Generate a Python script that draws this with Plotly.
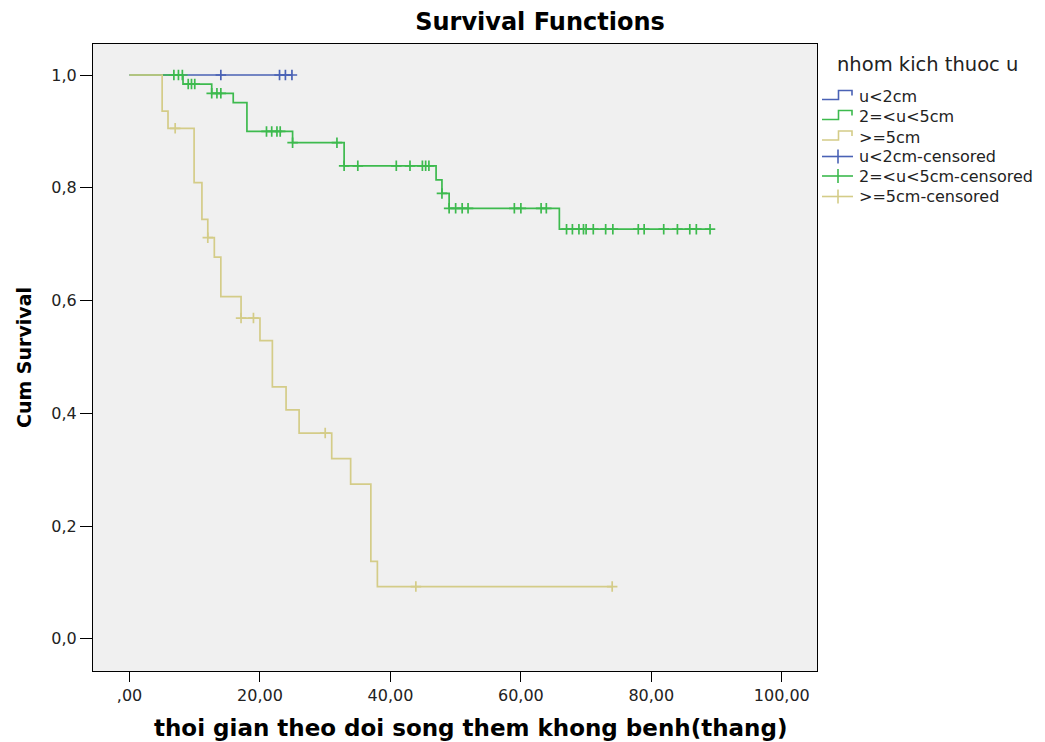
import plotly.graph_objects as go

# ---------------- data ----------------
group_names = ["u<2cm", "2=<u<5cm", ">=5cm"]
legend_title = "nhom kich thuoc u"

# u<2cm : no events, only censored observations
blue_step_t = [0.0]
blue_step_s = [1.0]
blue_end_t = 24.9
blue_cens_t = [14.0, 23.0, 23.9, 24.9]

# 2=<u<5cm
green_step_t = [0.0, 8.2, 12.6, 15.9, 18.0, 25.0, 32.9, 47.0, 47.9, 49.0, 65.9]
green_step_s = [1.0, 0.984, 0.9675, 0.951, 0.900, 0.880, 0.839, 0.814, 0.790, 0.7636, 0.7266]
green_end_t = 89.0
green_cens_t = [6.8, 7.5, 8.1, 9.0, 9.5, 10.0, 12.6, 13.4, 14.0,
                21.0, 21.8, 22.6, 23.1, 25.0, 31.8, 32.9, 35.0, 40.9, 43.0,
                44.9, 45.4, 45.9, 47.9, 49.0, 50.0, 51.0, 51.9, 59.0, 60.0,
                63.1, 63.9, 67.0, 67.9, 68.9, 69.6, 70.0, 71.1, 73.0, 74.1,
                78.0, 78.9, 81.9, 84.0, 85.9, 86.9, 89.0]

# >=5cm
yellow_step_t = [0.0, 5.0, 5.9, 9.9, 11.1, 12.0, 13.0, 14.0, 17.1, 20.0,
                 21.9, 24.0, 26.0, 31.0, 33.9, 37.0, 38.0]
yellow_step_s = [1.0, 0.936, 0.9055, 0.809, 0.744, 0.7115, 0.677, 0.607, 0.569,
                 0.529, 0.447, 0.406, 0.365, 0.3195, 0.2743, 0.1376, 0.0927]
yellow_end_t = 74.0
yellow_cens_t = [7.0, 12.0, 17.1, 19.0, 30.0, 43.9, 74.0]

x_tickvals = [0, 20, 40, 60, 80, 100]
x_ticktext = [",00", "20,00", "40,00", "60,00", "80,00", "100,00"]
y_tickvals = [0.0, 0.2, 0.4, 0.6, 0.8, 1.0]
y_ticktext = ["0,0", "0,2", "0,4", "0,6", "0,8", "1,0"]

colors = ["#4a62b5", "#3dba4e", "#d4cc88"]

# ---------------- helpers ----------------
def surv_at(t, st, ss):
    v = ss[0]
    for ti, si in zip(st, ss):
        if ti <= t:
            v = si
    return v

series = [
    (blue_step_t, blue_step_s, blue_end_t, blue_cens_t),
    (green_step_t, green_step_s, green_end_t, green_cens_t),
    (yellow_step_t, yellow_step_s, yellow_end_t, yellow_cens_t),
]

fig = go.Figure()
for name, col, (st, ss, te, ct) in zip(group_names, colors, series):
    fig.add_trace(go.Scatter(
        x=list(st) + [te], y=list(ss) + [ss[-1]],
        mode="lines", line=dict(color=col, width=1.7, shape="hv"),
        name=name, showlegend=False, hoverinfo="skip"))
for name, col, (st, ss, te, ct) in zip(group_names, colors, series):
    fig.add_trace(go.Scatter(
        x=ct, y=[surv_at(t, st, ss) for t in ct],
        mode="markers",
        marker=dict(symbol="cross-thin", size=7.5, color=col,
                    line=dict(color=col, width=1.7)),
        name=name + "-censored", showlegend=False))

# ---------------- layout ----------------
W, H = 1045, 742
L, R, T, B = 93, 817, 44, 671

def px(x):
    return (x - L) / (R - L)

def py(y):
    return (B - y) / (B - T)

FONT = "DejaVu Sans"

fig.update_layout(
    width=W, height=H,
    margin=dict(l=L, r=W - R, t=T, b=H - B),
    paper_bgcolor="white", plot_bgcolor="#f0f0f0",
    showlegend=False,
    title=dict(text="<b>Survival Functions</b>", x=540 / W, xref="container",
               xanchor="center", y=1 - 22 / H, yref="container", yanchor="middle",
               font=dict(family=FONT, size=24, color="black")),
    font=dict(family=FONT, color="#222"),
)
fig.update_xaxes(
    range=[-5.6, 105.4], tickvals=x_tickvals, ticktext=x_ticktext,
    ticks="outside", ticklen=10, tickcolor="black", tickwidth=1,
    tickfont=dict(family=FONT, size=16, color="#222"),
    showline=True, linecolor="black", linewidth=1, mirror=True,
    showgrid=False, zeroline=False,
)
fig.update_yaxes(
    range=[-0.057, 1.055], tickvals=y_tickvals, ticktext=y_ticktext,
    ticks="outside", ticklen=12, tickcolor="black", tickwidth=1,
    tickfont=dict(family=FONT, size=16, color="#222"),
    showline=True, linecolor="black", linewidth=1, mirror=True,
    showgrid=False, zeroline=False,
    title=dict(text="<b>Cum Survival</b>",
               font=dict(family=FONT, size=19, color="black"), standoff=14),
)

# ---------------- manual legend + x title ----------------
shapes = []
annots = []
annots.append(dict(text="<b>thoi gian theo doi song them khong benh(thang)</b>",
                   x=px(470), y=py(728), xref="paper", yref="paper",
                   xanchor="center", yanchor="middle", showarrow=False,
                   font=dict(family=FONT, size=23, color="black")))
annots.append(dict(text=legend_title, x=px(835), y=py(64.5), xref="paper", yref="paper",
                   xanchor="left", yanchor="middle", showarrow=False,
                   font=dict(family=FONT, size=19.5, color="#222")))
item_y = [96.5, 116.5, 137, 156.5, 176, 196.5]
labels = group_names + [g + "-censored" for g in group_names]
for i, (lab, yy) in enumerate(zip(labels, item_y)):
    col = colors[i % 3]
    if i < 3:
        path = "M {} {} L {} {} L {} {} L {} {} L {} {}".format(
            px(822), py(yy + 3), px(838.5), py(yy + 3), px(838.5), py(yy - 6),
            px(852), py(yy - 6), px(852), py(yy - 1))
        shapes.append(dict(type="path", path=path, xref="paper", yref="paper",
                           line=dict(color=col, width=1.6)))
    else:
        shapes.append(dict(type="line", x0=px(822), x1=px(853), y0=py(yy), y1=py(yy),
                           xref="paper", yref="paper", line=dict(color=col, width=1.6)))
        shapes.append(dict(type="line", x0=px(838), x1=px(838), y0=py(yy - 7), y1=py(yy + 7),
                           xref="paper", yref="paper", line=dict(color=col, width=1.6)))
    annots.append(dict(text=lab, x=px(857), y=py(yy), xref="paper", yref="paper",
                       xanchor="left", yanchor="middle", showarrow=False,
                       font=dict(family=FONT, size=16, color="#222")))

fig.update_layout(shapes=shapes, annotations=annots)
fig.write_html("out.html")
